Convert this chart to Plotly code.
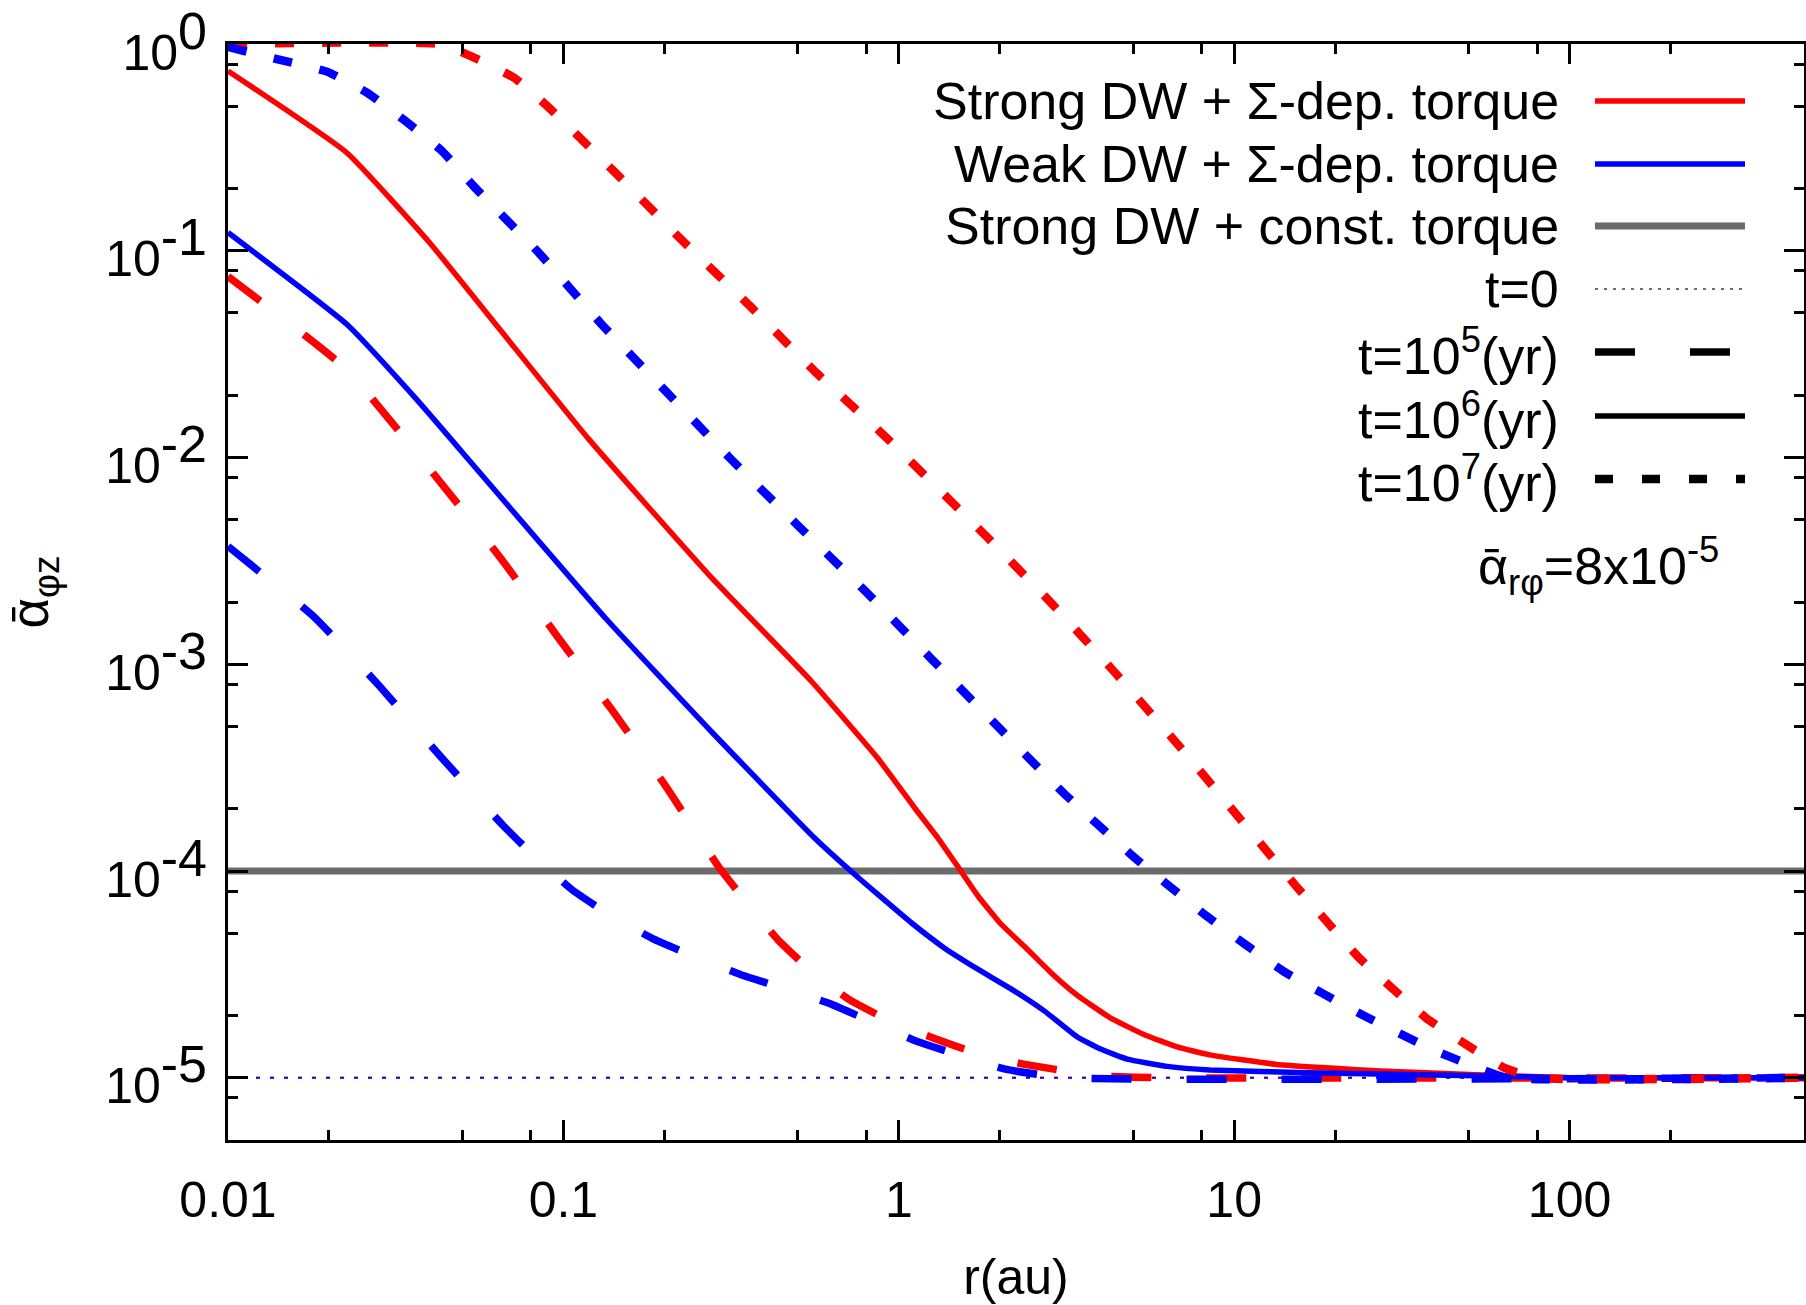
import plotly.graph_objects as go

# ---------------- data ----------------
# Strong DW + Sigma-dependent torque
r_strong_t5 = [0.01, 0.0226, 0.0652, 0.0957, 0.140, 0.203, 0.290, 0.355, 0.437, 0.562, 0.714, 0.955, 1.29, 1.74, 2.38, 3.98, 6.31, 500]
a_strong_t5 = [0.075, 0.0266, 3.24e-3, 1.37e-3, 5.97e-4, 2.54e-4, 1.05e-4, 6.92e-5, 4.63e-5, 3.16e-5, 2.38e-5, 1.86e-5, 1.54e-5, 1.30e-5, 1.16e-5, 1.02e-5, 1e-5, 1e-5]

r_strong_t6 = [0.01, 0.0226, 0.0398, 0.0646, 0.119, 0.276, 0.547, 0.867, 1.12, 1.31, 1.50, 1.72, 2.0, 2.42, 2.88, 3.40, 4.27, 5.38, 6.76, 8.45, 13.4, 26.3, 52.5, 100, 500]
a_strong_t6 = [0.741, 0.298, 0.110, 0.0417, 0.01227, 2.63e-3, 8.32e-4, 3.50e-4, 2.0e-4, 1.44e-4, 1.05e-4, 7.59e-5, 5.62e-5, 4.17e-5, 3.16e-5, 2.51e-5, 1.95e-5, 1.62e-5, 1.41e-5, 1.29e-5, 1.16e-5, 1.08e-5, 1.035e-5, 1e-5, 1e-5]

r_strong_t7 = [0.01, 0.0427, 0.0561, 0.0713, 0.0887, 0.143, 0.225, 0.361, 0.566, 0.908, 1.82, 2.83, 4.39, 6.75, 10.2, 15.3, 23.6, 37.3, 49.1, 63.7, 79.4, 500]
a_strong_t7 = [1.0, 1.0, 0.838, 0.686, 0.508, 0.238, 0.113, 0.0538, 0.0258, 0.0127, 4.17e-3, 2.0e-3, 9.2e-4, 4.14e-4, 1.86e-4, 8.45e-5, 3.80e-5, 1.95e-5, 1.45e-5, 1.12e-5, 1e-5, 1e-5]

# Weak DW + Sigma-dependent torque
r_weak_t5 = [0.01, 0.018, 0.0281, 0.0427, 0.0661, 0.0832, 0.106, 0.138, 0.186, 0.251, 0.337, 0.619, 1.12, 2.08, 3.16, 500]
a_weak_t5 = [3.72e-3, 1.70e-3, 7.94e-4, 3.63e-4, 1.66e-4, 1.15e-4, 8.13e-5, 6.10e-5, 4.68e-5, 3.80e-5, 3.16e-5, 2.29e-5, 1.51e-5, 1.10e-5, 1e-5, 1e-5]

r_weak_t6 = [0.01, 0.0226, 0.0365, 0.0561, 0.134, 0.276, 0.562, 0.719, 0.891, 1.09, 1.36, 1.72, 2.16, 2.72, 3.40, 3.98, 4.80, 6.31, 8.45, 16.7, 52.5, 100, 500]
a_weak_t6 = [0.1225, 0.0441, 0.0191, 8.51e-3, 1.66e-3, 4.73e-4, 1.44e-4, 1.0e-4, 7.41e-5, 5.62e-5, 4.27e-5, 3.35e-5, 2.69e-5, 2.10e-5, 1.58e-5, 1.38e-5, 1.23e-5, 1.135e-5, 1.09e-5, 1.057e-5, 1.023e-5, 1e-5, 1e-5]

r_weak_t7 = [0.01, 0.0143, 0.0198, 0.0261, 0.0340, 0.0436, 0.0542, 0.0845, 0.129, 0.202, 0.317, 0.501, 0.798, 1.245, 1.97, 3.11, 5.02, 8.28, 14.0, 24.3, 39.4, 51.5, 64.6, 500]
a_weak_t7 = [0.968, 0.838, 0.733, 0.579, 0.421, 0.302, 0.204, 0.0977, 0.0447, 0.0209, 9.77e-3, 4.68e-3, 2.24e-3, 1.07e-3, 5.01e-4, 2.37e-4, 1.17e-4, 6.05e-5, 3.28e-5, 2.0e-5, 1.36e-5, 1.14e-5, 1e-5, 1e-5]

# initial condition and constant-torque model
r_flat = [0.01, 500]
a_t0 = [1e-5, 1e-5]
a_const = [1e-4, 1e-4]

# axes ticks
x_tickvals = [0.01, 0.1, 1, 10, 100]
x_ticktext = ["0.01", "0.1", "1", "10", "100"]
x_minor = [0.02, 0.05, 0.08, 0.2, 0.5, 0.8, 2, 5, 8, 20, 50, 80, 200]
y_tickvals = [1, 0.1, 0.01, 1e-3, 1e-4, 1e-5]
y_exponents = ["0", "-1", "-2", "-3", "-4", "-5"]
y_minor = [0.8, 0.5, 0.2, 0.08, 0.05, 0.02, 8e-3, 5e-3, 2e-3, 8e-4, 5e-4, 2e-4, 8e-5, 5e-5, 2e-5, 8e-6]

model_labels = ["Strong DW + Σ-dep. torque", "Weak DW + Σ-dep. torque", "Strong DW + const. torque"]
time_labels = ["t=0", "t=10<sup>5</sup>(yr)", "t=10<sup>6</sup>(yr)", "t=10<sup>7</sup>(yr)"]
param_label = "ᾱ<sub>rφ</sub>=8x10<sup>-5</sup>"

# ---------------- styles ----------------
RED = "#ff0000"
BLUE = "#0000ff"
GRAY = "#6b6b6b"
FONT = "Liberation Sans, Arial, Helvetica, sans-serif"
DASH_T0 = "4px,10px"
DASH_T5 = "40px,55px"
DASH_T7 = "19px,28px"
W_T0, W_T5, W_T6, W_T7 = 2.2, 7.5, 5.5, 8.5
LEG_FS = 52
TICK_FS = 50
SUP_PX = 52  # sup is drawn at 70 % of this

y_ticktext = ["10<sup><span style=\"font-size:%dpx\">%s</span></sup>" % (SUP_PX, e) for e in y_exponents]

fig = go.Figure()

def add(x, y, color, width, dash, opacity=1.0):
    fig.add_trace(go.Scatter(x=x, y=y, mode="lines", showlegend=False, opacity=opacity,
                             line=dict(color=color, width=width, dash=dash, shape="spline", smoothing=0.4)))

add(r_flat, a_t0, RED, W_T0, DASH_T0)
add(r_flat, a_t0, BLUE, W_T0, DASH_T0, 0.8)
add(r_flat, a_const, GRAY, 7, "solid")
add(r_strong_t5, a_strong_t5, RED, W_T5, DASH_T5)
add(r_weak_t5, a_weak_t5, BLUE, W_T5, DASH_T5)
add(r_strong_t6, a_strong_t6, RED, W_T6, "solid")
add(r_weak_t6, a_weak_t6, BLUE, W_T6, "solid")
add(r_strong_t7, a_strong_t7, RED, W_T7, DASH_T7)
add(r_weak_t7, a_weak_t7, BLUE, W_T7, DASH_T7)

# ---------------- legend built from annotations + line samples ----------------
PLOT_L, PLOT_R, PLOT_T, PLOT_B = 228, 1804, 44, 1140
def px(X):
    return (X - PLOT_L) / (PLOT_R - PLOT_L)
def py(Y):
    return (PLOT_B - Y) / (PLOT_B - PLOT_T)

row_y = [101, 164, 226, 289, 352, 416, 479]
texts = model_labels + time_labels
samples = [
    (RED, 5.5, "solid"), (BLUE, 5.5, "solid"), (GRAY, 7, "solid"),
    ("#404040", 1.5, "3px,6px"), ("black", 7.5, DASH_T5), ("black", 5.5, "solid"), ("black", 8.5, "18px,29px"),
]
annotations = []
shapes = []
for Y, t, (c, w, d) in zip(row_y, texts, samples):
    annotations.append(dict(x=px(1561), y=py(Y), xref="paper", yref="paper", text=t, showarrow=False,
                            xanchor="right", yanchor="middle", font=dict(size=LEG_FS, color="black", family=FONT)))
    shapes.append(dict(type="line", xref="paper", yref="paper", x0=px(1595), x1=px(1745), y0=py(Y), y1=py(Y),
                       line=dict(color=c, width=w, dash=d)))
annotations.append(dict(x=px(1598), y=py(566), xref="paper", yref="paper", text=param_label, showarrow=False,
                        xanchor="center", yanchor="middle", font=dict(size=LEG_FS, color="black", family=FONT)))

axis_common = dict(
    type="log", showline=True, linecolor="black", linewidth=3, mirror="allticks",
    ticks="inside", ticklen=20, tickwidth=3, tickcolor="black", showgrid=False, zeroline=False,
    tickfont=dict(size=TICK_FS, color="black", family=FONT), ticklabeloverflow="allow", automargin=False,
)

fig.update_layout(
    width=1806, height=1305,
    margin=dict(l=PLOT_L, r=1806 - PLOT_R, t=PLOT_T, b=1305 - PLOT_B, autoexpand=False),
    paper_bgcolor="white", plot_bgcolor="white",
    font=dict(family=FONT, color="black"),
    xaxis=dict(axis_common, range=[-2, 2.69897], tickmode="array", tickvals=x_tickvals, ticktext=x_ticktext,
               ticklabelstandoff=14,
               minor=dict(tickmode="array", tickvals=x_minor, ticks="inside", ticklen=10, tickwidth=3, tickcolor="black"),
               title=dict(text="r(au)", font=dict(size=50, color="black", family=FONT), standoff=33)),
    yaxis=dict(axis_common, range=[-5.30103, 0], tickmode="array", tickvals=y_tickvals, ticktext=y_ticktext,
               ticklabelstandoff=8, ticklabelshift=8,
               minor=dict(tickmode="array", tickvals=y_minor, ticks="inside", ticklen=10, tickwidth=3, tickcolor="black"),
               title=dict(text="ᾱ<sub>φz</sub>", font=dict(size=53, color="black", family=FONT), standoff=45)),
    annotations=annotations,
    shapes=shapes,
)

fig.write_html("out.html")
